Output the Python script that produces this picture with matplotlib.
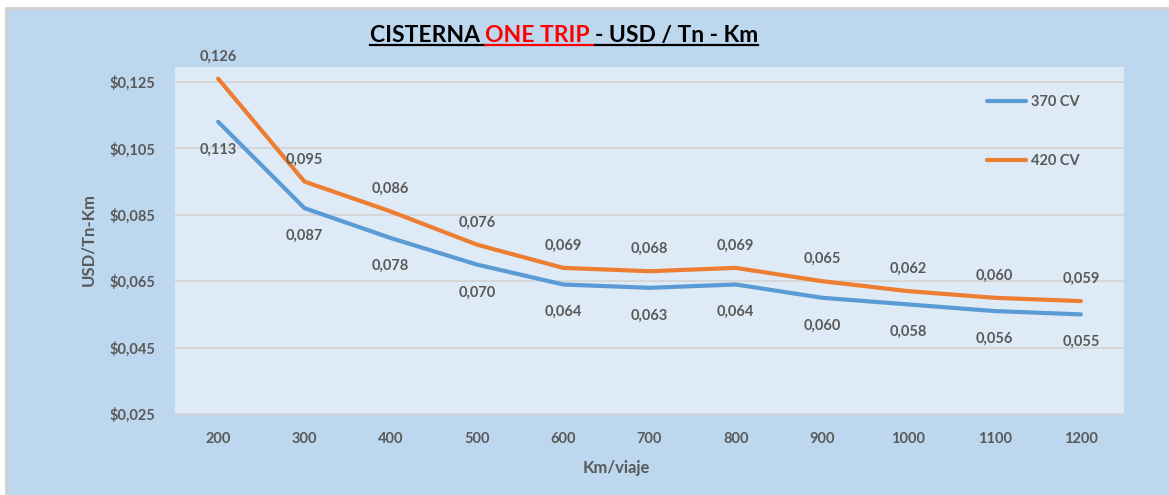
import matplotlib
matplotlib.use("Agg")
import matplotlib.pyplot as plt
from matplotlib.lines import Line2D
from matplotlib.patches import Rectangle

plt.rcParams['font.family'] = ['Lato', 'DejaVu Sans']
plt.rcParams['font.weight'] = 'bold'

categories = ['200', '300', '400', '500', '600', '700', '800', '900', '1000', '1100', '1200']
cv370 = [0.113, 0.087, 0.078, 0.070, 0.064, 0.063, 0.064, 0.060, 0.058, 0.056, 0.055]
cv420 = [0.126, 0.095, 0.086, 0.076, 0.069, 0.068, 0.069, 0.065, 0.062, 0.060, 0.059]
yticks = [0.025, 0.045, 0.065, 0.085, 0.105, 0.125]
series_names = ['370 CV', '420 CV']

W, H = 1169, 495
fig = plt.figure(figsize=(W / 100, H / 100), dpi=100)
fig.patch.set_facecolor('white')
# outer chart background with light gray border (top and left visible)
fig.patches.append(Rectangle((6 / W, -0.05), 1.1, 1.05 - 8 / H, transform=fig.transFigure,
                             facecolor='#BDD7EE', edgecolor='#D0D0D0', linewidth=2, zorder=-10))

TXT = '#595959'
ax = fig.add_axes([175 / W, (H - 414) / H, (1124 - 175) / W, (414 - 67) / H])
ax.set_zorder(1)
ax.set_facecolor('#DEEAF6')

x = list(range(len(categories)))
blue = '#5B9BD5'
orange = '#ED7D31'
ax.plot(x, cv370, color=blue, lw=3.0, solid_capstyle='round', label=series_names[0], zorder=3)
ax.plot(x, cv420, color=orange, lw=3.0, solid_capstyle='round', label=series_names[1], zorder=3)

for xi, v in zip(x, cv370):
    ax.annotate(f"{v:.3f}".replace('.', ','), (xi, v), xytext=(0, -20), textcoords='offset points',
                ha='center', va='center', fontsize=10.5, color=TXT, fontweight='bold', zorder=4)
for xi, v in zip(x, cv420):
    ax.annotate(f"{v:.3f}".replace('.', ','), (xi, v), xytext=(0, 16), textcoords='offset points',
                ha='center', va='center', fontsize=10.5, color=TXT, fontweight='bold', zorder=4)

ax.set_xlim(-0.5, len(categories) - 0.5)
ax.set_ylim(0.025, 0.1295)
ax.set_xticks(x)
ax.set_xticklabels(categories)
ax.set_yticks(yticks)
ax.set_yticklabels([f"${t:.3f}".replace('.', ',') for t in yticks])
ax.tick_params(axis='both', length=0, labelsize=10.5, labelcolor=TXT)
ax.tick_params(axis='y', pad=14)
ax.tick_params(axis='x', pad=13)
ax.grid(axis='y', color='#D4D4D4', lw=1.3, zorder=1)
ax.set_axisbelow(True)
for s in ['top', 'right', 'left']:
    ax.spines[s].set_visible(False)
ax.spines['bottom'].set_color('#D4D4D4')
ax.spines['bottom'].set_linewidth(1.3)

fig.text(88 / W, 1 - 240 / H, 'USD/Tn-Km', rotation=90, ha='center', va='center',
         fontsize=12, color=TXT, fontweight='bold')
fig.text(616 / W, 1 - 468 / H, 'Km/viaje', ha='center', va='center',
         fontsize=12, color=TXT, fontweight='bold')

leg = ax.legend(loc='upper left', bbox_to_anchor=(987 / W, 1 - 95 / H),
                bbox_transform=fig.transFigure, frameon=False, fontsize=10.5,
                handlelength=2.7, handletextpad=0.3, labelspacing=3.1,
                borderpad=0, borderaxespad=0)
for t in leg.get_texts():
    t.set_color(TXT)

# Title with mixed colours and underline
pieces = [('CISTERNA ', 'black'), ('ONE TRIP ', '#FF0000'), ('- USD / Tn - Km', 'black')]
fig.canvas.draw()
renderer = fig.canvas.get_renderer()
tmp = []
total = 0
for s, c in pieces:
    t = fig.text(0, 0, s, fontsize=16.5, fontweight='bold', color=c, va='baseline')
    w = t.get_window_extent(renderer).width
    tmp.append((t, w))
    total += w
cx = 564
base_y = H - 42
xs = cx - total / 2
for (t, w), (s, c) in zip(tmp, pieces):
    t.set_position((xs / W, base_y / H))
    fig.lines.append(Line2D([xs / W, (xs + w) / W], [(base_y - 3) / H] * 2,
                            transform=fig.transFigure, color=c, lw=1.6))
    xs += w

fig.savefig('out.png', dpi=100, facecolor=fig.get_facecolor())
